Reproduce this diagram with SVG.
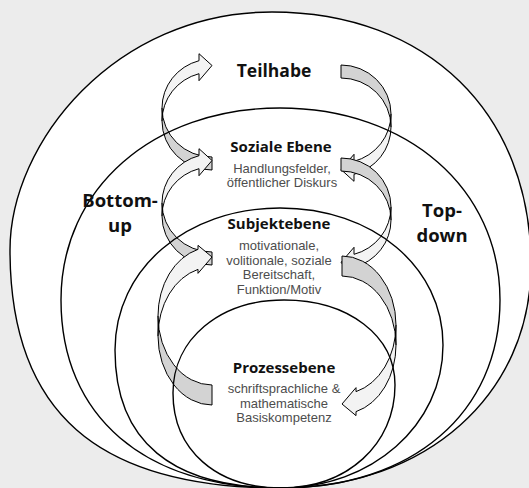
<svg xmlns="http://www.w3.org/2000/svg" xmlns:xlink="http://www.w3.org/1999/xlink" width="529" height="488" viewBox="0 0 529 488">
<style>
.bg{fill:#ececec}
.plate{fill:#fff;stroke:none}
.lvl{fill:none;stroke:#000;stroke-width:1.4}
.t{font-family:"Open Sans","Noto Sans","Liberation Sans",sans-serif;text-anchor:middle}
.h{font-weight:700;fill:#111}
.d{font-family:"Liberation Sans",Arial,sans-serif;font-size:13px;fill:#4d4d4d;text-anchor:middle}
.af{fill:#f3f3f3}
.ab{fill:#d3d3d3}
.ao{fill:none;stroke:#000;stroke-width:1;stroke-linejoin:round}
</style>
<defs>
<path id="e1" d="M10,250 C10,142.8 114.8,12 272,12 C427.4,12 531,113.2 531,265 C531,394.3 426,488 281,488 C96.7,488 10,411.8 10,250 Z"/>
<g id="arrowS">
<path class="af" d="M0,49 A50,49 0 0 0 37,96.31 L37,89.31 L50,104.5 L37,116.31 L37,109.31 A50,49 0 0 1 0,62 Z"/>
<path class="ab" d="M50,13 A50,49 0 0 0 0.44,55.5 A50,49 0 0 1 50,0 Z"/>
<path class="ao" d="M0,49 A50,49 0 0 0 37,96.31 L37,89.31 L50,104.5 L37,116.31 L37,109.31 A50,49 0 0 1 0,62 L0,49 A50,49 0 0 1 50,0 L50,13 A50,49 0 0 0 0,62"/>
</g>
<g id="arrowT">
<path class="af" d="M0,69 A54,69 0 0 0 40,135.64 L40,131.64 L54,148 L40,159.64 L40,155.64 A54,69 0 0 1 0,89 Z"/>
<path class="ab" d="M54,20 A54,69 0 0 0 0.57,79 A54,69 0 0 1 54,0 Z"/>
<path class="ao" d="M0,69 A54,69 0 0 0 40,135.64 L40,131.64 L54,148 L40,159.64 L40,155.64 A54,69 0 0 1 0,89 L0,69 A54,69 0 0 1 54,0 L54,20 A54,69 0 0 0 0,89"/>
</g>
</defs>
<rect class="bg" x="0" y="0" width="529" height="488"/>
<use xlink:href="#e1" class="plate"/>
<g id="connectors">
<use xlink:href="#arrowS" transform="translate(162,170) scale(1,-1)"/>
<use xlink:href="#arrowS" transform="translate(162,265) scale(1,-1)"/>
<use xlink:href="#arrowT" transform="translate(158,405) scale(1,-1)"/>
<use xlink:href="#arrowS" transform="translate(391,65) scale(-1,1)"/>
<use xlink:href="#arrowS" transform="translate(391,158) scale(-1,1)"/>
<use xlink:href="#arrowT" transform="translate(396,256) scale(-1,1)"/>
</g>
<g id="teilhabe">
<use xlink:href="#e1" class="lvl"/>
<text class="t h" x="274" y="77" font-size="17.5">Teilhabe</text>
</g>
<g id="soziale-ebene">
<path class="lvl" d="M61,300 C61,188.6 153,108 280,108 C407.6,108 500,188.6 500,300 C500,412.8 412.4,488 281,488 C144.6,488 61,416.6 61,300 Z"/>
<text class="t h" x="281" y="152" font-size="15">Soziale Ebene</text>
<text class="d"><tspan x="282" y="172.5">Handlungsfelder,</tspan><tspan x="282" y="187">öffentlicher Diskurs</tspan></text>
</g>
<g id="subjektebene">
<path class="lvl" d="M115,350 C115,269.1 186,208 280,208 C372.9,208 443,266.9 443,345 C443,425.1 371.7,488 281,488 C171.4,488 115,441.1 115,350 Z"/>
<text class="t h" x="279" y="229" font-size="15">Subjektebene</text>
<text class="d"><tspan x="279" y="250">motivationale,</tspan><tspan x="279" y="264.5">volitionale, soziale</tspan><tspan x="279" y="279">Bereitschaft,</tspan><tspan x="279" y="293.5">Funktion/Motiv</tspan></text>
</g>
<g id="prozessebene">
<path class="lvl" d="M173,393 C173,339.1 219.6,300 284,300 C348.4,300 395,335.7 395,385 C395,444.7 347.1,488 281,488 C216.2,488 173,450 173,393 Z"/>
<text class="t h" x="284" y="373" font-size="15">Prozessebene</text>
<text class="d"><tspan x="284" y="393">schriftsprachliche &amp;</tspan><tspan x="284" y="407.5">mathematische</tspan><tspan x="284" y="422">Basiskompetenz</tspan></text>
</g>
<g id="bottom-up">
<text class="t h" font-size="18.5"><tspan x="120" y="207">Bottom-</tspan><tspan x="120" y="232">up</tspan></text>
</g>
<g id="top-down">
<text class="t h" font-size="18.5"><tspan x="442" y="217">Top-</tspan><tspan x="442" y="242">down</tspan></text>
</g>
</svg>
